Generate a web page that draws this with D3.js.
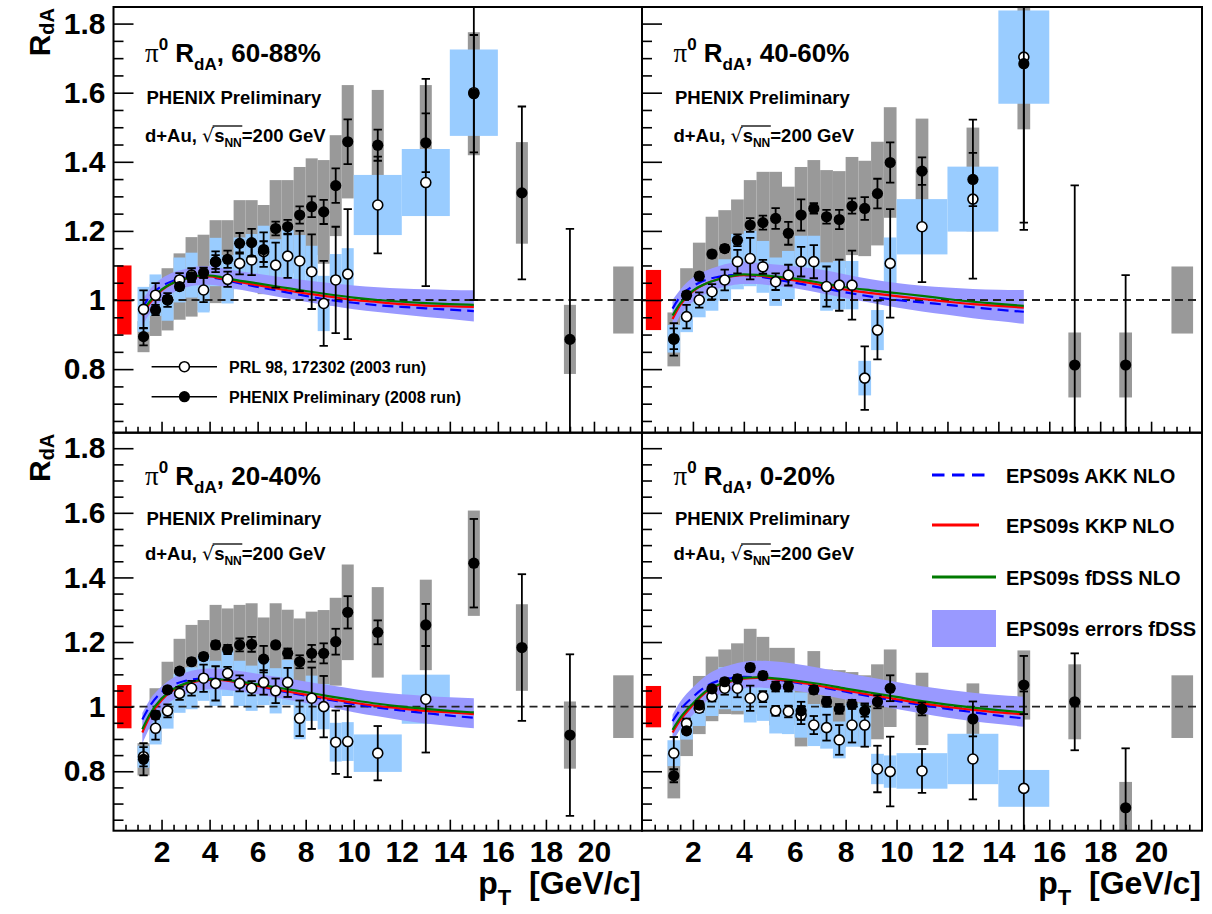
<!DOCTYPE html>
<html>
<head>
<meta charset="utf-8">
<script src="https://cdn.jsdelivr.net/npm/d3@7"></script>
<style>
  html, body { margin: 0; padding: 0; background: #fff; }
  svg { display: block; }
  text { font-family: "Liberation Sans", Arial, Helvetica, sans-serif; fill: #000; white-space: pre; }
</style>
</head>
<body>
<svg id="chart" width="1212" height="914"></svg>
<script>
// ---------------------------------------------------------------
// pi0 R_dA versus pT in four d+Au centrality classes
// ---------------------------------------------------------------
const centralities = ["60-88%", "40-60%", "20-40%", "0-20%"];

// 2008 run (filled points): bin centres
const ptRun08 = [1.25,1.75,2.25,2.75,3.25,3.75,4.25,4.75,5.25,5.75,6.25,6.75,7.25,7.75,8.25,8.75,9.25,9.75,11,13,15,17,19];
// 2003 run (open points): bin centres and half widths
const ptRun03 = [1.25,1.75,2.25,2.75,3.25,3.75,4.25,4.75,5.25,5.75,6.25,6.75,7.25,7.75,8.25,8.75,9.25,9.75,11,13,15];
const halfBinRun03 = [0.25,0.25,0.25,0.25,0.25,0.25,0.25,0.25,0.25,0.25,0.25,0.25,0.25,0.25,0.25,0.25,0.25,0.25,1,1,1];
const halfBinRun08 = 0.25;

// 60-88%
const rda08_6088  = [0.894,0.971,1.002,1.039,1.067,1.079,1.111,1.118,1.164,1.166,1.146,1.207,1.212,1.246,1.270,1.255,1.331,1.458,1.448,1.455,1.597,1.310,0.886];
const stat08_6088 = [0.025,0.015,0.010,0.010,0.012,0.015,0.030,0.025,0.030,0.040,0.050,0.020,0.020,0.025,0.030,0.035,0.050,0.065,0.045,0.085,0.170,0.250,0.320];
const sys08_6088  = [0.045,0.075,0.090,0.096,0.115,0.110,0.120,0.113,0.125,0.123,0.129,0.140,0.135,0.139,0.140,0.150,0.146,0.164,0.160,0.167,0.178,0.147,0.100];
const rda03_6088  = [0.973,1.014,1.000,1.058,1.072,1.029,1.110,1.060,1.106,1.116,1.140,1.101,1.127,1.113,1.082,0.990,1.058,1.075,1.275,1.340,1.600];
const stat03_6088 = [0.055,0.035,0.020,0.020,0.020,0.035,0.020,0.022,0.032,0.044,0.030,0.065,0.063,0.087,0.108,0.123,0.154,0.188,0.140,0.300,0.600];
const sys03_6088  = [0.065,0.060,0.060,0.065,0.065,0.065,0.070,0.070,0.075,0.075,0.075,0.075,0.075,0.075,0.075,0.080,0.075,0.075,0.087,0.097,0.125];

// 40-60%
const rda08_4060  = [0.886,1.014,1.069,1.133,1.149,1.173,1.217,1.224,1.236,1.193,1.246,1.265,1.241,1.233,1.272,1.265,1.308,1.398,1.373,1.349,1.684,0.812,0.812];
const stat08_4060 = [0.047,0.010,0.010,0.010,0.010,0.017,0.020,0.020,0.030,0.033,0.045,0.015,0.020,0.028,0.022,0.033,0.043,0.058,0.040,0.077,0.460,0.520,0.260];
const sys08_4060  = [0.078,0.078,0.097,0.108,0.111,0.118,0.130,0.147,0.135,0.135,0.139,0.140,0.135,0.140,0.142,0.138,0.150,0.160,0.152,0.150,0.190,0.094,0.094];
const rda03_4060  = [0.888,0.952,1.000,1.024,1.058,1.111,1.120,1.096,1.053,1.072,1.111,1.111,1.039,1.043,1.043,0.774,0.913,1.106,1.212,1.292,1.703];
const stat03_4060 = [0.030,0.034,0.022,0.022,0.030,0.034,0.060,0.020,0.024,0.030,0.043,0.048,0.058,0.074,0.100,0.092,0.085,0.157,0.160,0.230,0.500];
const sys03_4060  = [0.040,0.045,0.050,0.055,0.060,0.080,0.080,0.075,0.070,0.070,0.075,0.075,0.070,0.070,0.070,0.050,0.058,0.075,0.080,0.094,0.135];

// 20-40%
const rda08_2040  = [0.837,0.974,1.052,1.110,1.139,1.155,1.191,1.177,1.191,1.193,1.147,1.191,1.165,1.139,1.165,1.165,1.201,1.292,1.230,1.253,1.444,1.183,0.912];
const stat08_2040 = [0.050,0.012,0.010,0.010,0.010,0.010,0.012,0.014,0.020,0.023,0.041,0.010,0.015,0.020,0.026,0.031,0.040,0.050,0.037,0.065,0.137,0.227,0.250];
const sys08_2040  = [0.050,0.083,0.087,0.100,0.114,0.113,0.124,0.127,0.124,0.127,0.129,0.129,0.135,0.134,0.129,0.134,0.136,0.148,0.140,0.140,0.163,0.134,0.104];
const rda03_2040  = [0.845,0.933,0.987,1.041,1.057,1.088,1.072,1.103,1.072,1.057,1.075,1.049,1.075,0.964,1.026,1.000,0.890,0.892,0.856,1.023,null];
const stat03_2040 = [0.030,0.035,0.020,0.020,0.023,0.042,0.053,0.020,0.025,0.022,0.038,0.038,0.045,0.055,0.095,0.095,0.098,0.110,0.084,0.165,null];
const sys03_2040  = [0.034,0.050,0.055,0.060,0.065,0.070,0.070,0.070,0.070,0.070,0.070,0.070,0.070,0.065,0.070,0.070,0.060,0.060,0.058,0.076,null];

// 0-20%
const rda08_0020  = [0.786,0.925,1.005,1.055,1.077,1.086,1.121,1.096,1.062,1.062,0.987,1.052,1.015,0.993,1.007,0.987,1.015,1.057,0.993,0.962,1.067,1.015,0.687];
const stat08_0020 = [0.020,0.010,0.012,0.010,0.010,0.012,0.012,0.012,0.015,0.015,0.028,0.012,0.015,0.015,0.014,0.018,0.020,0.040,0.020,0.054,0.090,0.150,0.184];
const sys08_0020  = [0.070,0.078,0.090,0.100,0.100,0.110,0.120,0.120,0.120,0.120,0.110,0.120,0.100,0.120,0.100,0.110,0.116,0.120,0.112,0.110,0.107,0.116,0.080];
const rda03_0020  = [0.856,0.948,0.995,1.031,1.057,1.057,1.026,1.031,0.987,0.985,0.974,0.943,0.935,0.897,0.943,0.943,0.807,0.799,0.801,0.838,0.747];
const stat03_0020 = [0.050,0.015,0.012,0.015,0.020,0.028,0.039,0.017,0.015,0.018,0.028,0.028,0.040,0.046,0.054,0.067,0.072,0.108,0.068,0.125,0.300];
const sys03_0020  = [0.040,0.050,0.055,0.060,0.065,0.070,0.075,0.075,0.070,0.070,0.070,0.065,0.065,0.057,0.067,0.067,0.047,0.050,0.055,0.078,0.057];

// global normalisation uncertainties
const dAuNormErr = [0.100, 0.087, 0.067, 0.064];   // red box, one per centrality
const ppNormErr = 0.097;                             // grey box
const dAuNormPt = [0.15, 0.75];
const ppNormPt = [20.8, 21.65];

// EPS09s NLO calculations
const ptTheory = [1.2,1.5,2,2.5,3,3.5,4,4.5,5,6,7,8,9,10,11,12,13,14,15];

const akk_6088  = [0.975,1.010,1.040,1.056,1.065,1.068,1.066,1.060,1.052,1.038,1.025,1.012,1.000,0.992,0.985,0.980,0.976,0.972,0.968];
const kkp_6088  = [0.955,0.990,1.028,1.050,1.062,1.068,1.068,1.062,1.055,1.043,1.031,1.019,1.010,1.000,0.994,0.988,0.984,0.982,0.980];
const fdss_6088 = [0.965,0.995,1.030,1.050,1.062,1.070,1.071,1.066,1.059,1.048,1.037,1.026,1.016,1.007,1.000,0.995,0.991,0.988,0.986];
const fdssLo_6088 = [0.925,0.960,0.998,1.022,1.036,1.043,1.044,1.040,1.033,1.020,1.007,0.995,0.984,0.973,0.965,0.958,0.951,0.945,0.938];
const fdssHi_6088 = [1.000,1.030,1.062,1.080,1.090,1.097,1.098,1.093,1.086,1.076,1.066,1.057,1.049,1.042,1.037,1.033,1.031,1.029,1.028];

const akk_4060  = [0.975,1.010,1.040,1.058,1.067,1.072,1.072,1.069,1.063,1.050,1.036,1.022,1.010,1.000,0.993,0.986,0.979,0.972,0.966];
const kkp_4060  = [0.945,0.985,1.025,1.047,1.060,1.068,1.072,1.071,1.067,1.057,1.044,1.030,1.020,1.011,1.003,0.995,0.988,0.983,0.978];
const fdss_4060 = [0.955,0.990,1.027,1.047,1.060,1.069,1.074,1.073,1.070,1.062,1.050,1.037,1.028,1.020,1.012,1.003,0.995,0.989,0.983];
const fdssLo_4060 = [0.910,0.955,0.995,1.018,1.033,1.042,1.046,1.046,1.043,1.034,1.020,1.005,0.992,0.978,0.967,0.957,0.947,0.939,0.931];
const fdssHi_4060 = [1.000,1.030,1.065,1.085,1.098,1.107,1.110,1.108,1.104,1.098,1.088,1.074,1.060,1.049,1.041,1.036,1.032,1.030,1.029];

const akk_2040  = [0.960,1.000,1.045,1.068,1.080,1.086,1.087,1.084,1.078,1.063,1.048,1.034,1.021,1.008,0.997,0.988,0.980,0.972,0.966];
const kkp_2040  = [0.920,0.968,1.020,1.052,1.070,1.079,1.083,1.082,1.077,1.064,1.050,1.037,1.024,1.012,1.002,0.994,0.987,0.982,0.977];
const fdss_2040 = [0.930,0.975,1.025,1.055,1.072,1.081,1.085,1.084,1.080,1.069,1.057,1.045,1.032,1.020,1.009,1.000,0.993,0.987,0.982];
const fdssLo_2040 = [0.885,0.935,0.990,1.022,1.040,1.049,1.054,1.053,1.049,1.038,1.025,1.011,0.997,0.983,0.970,0.958,0.948,0.940,0.933];
const fdssHi_2040 = [0.980,1.020,1.062,1.090,1.106,1.115,1.118,1.117,1.113,1.102,1.090,1.078,1.066,1.055,1.045,1.038,1.033,1.029,1.026];

const akk_0020  = [0.955,0.990,1.030,1.062,1.080,1.088,1.092,1.091,1.087,1.075,1.061,1.046,1.031,1.018,1.005,0.993,0.983,0.972,0.964];
const kkp_0020  = [0.920,0.958,1.005,1.044,1.066,1.078,1.087,1.089,1.087,1.077,1.064,1.050,1.036,1.023,1.010,0.999,0.990,0.982,0.976];
const fdss_0020 = [0.928,0.965,1.010,1.047,1.068,1.080,1.089,1.091,1.089,1.081,1.070,1.056,1.043,1.030,1.017,1.006,0.997,0.989,0.982];
const fdssLo_0020 = [0.890,0.930,0.975,1.015,1.037,1.049,1.057,1.059,1.057,1.049,1.037,1.022,1.007,0.993,0.979,0.966,0.955,0.946,0.938];
const fdssHi_0020 = [0.975,1.015,1.060,1.095,1.117,1.130,1.139,1.142,1.141,1.133,1.120,1.105,1.090,1.076,1.063,1.052,1.043,1.036,1.031];

// axis ticks
const xMajorTicks = [2,4,6,8,10,12,14,16,18,20];
const yMajorTicks = [0.8,1,1.2,1.4,1.6,1.8];
const yMinorTicks = [0.65,0.7,0.75,0.85,0.9,0.95,1.05,1.1,1.15,1.25,1.3,1.35,1.45,1.5,1.55,1.65,1.7,1.75];

// ---------------------------------------------------------------
const FONT = '"Liberation Sans", Arial, Helvetica, sans-serif';
const COL = {
  gray: "#999999", lightblue: "#99ccff", band: "#9999ff",
  akk: "#0000ff", kkp: "#ff0000", fdss: "#007a00", norm: "#ff0000"
};

const svg = d3.select("#chart");
svg.append("rect").attr("width", 1212).attr("height", 914).attr("fill", "#fff");
const defs = svg.append("defs");

const panels = [
  { x0: 113.5, x1: 642,  y0: 7,     y1: 432.7, col: 0, row: 0,
    r08: rda08_6088, s08: stat08_6088, y08: sys08_6088, r03: rda03_6088, s03: stat03_6088, y03: sys03_6088,
    akk: akk_6088, kkp: kkp_6088, fdss: fdss_6088, lo: fdssLo_6088, hi: fdssHi_6088 },
  { x0: 642,   x1: 1202, y0: 7,     y1: 432.7, col: 1, row: 0,
    r08: rda08_4060, s08: stat08_4060, y08: sys08_4060, r03: rda03_4060, s03: stat03_4060, y03: sys03_4060,
    akk: akk_4060, kkp: kkp_4060, fdss: fdss_4060, lo: fdssLo_4060, hi: fdssHi_4060 },
  { x0: 113.5, x1: 642,  y0: 432.7, y1: 830.7, col: 0, row: 1,
    r08: rda08_2040, s08: stat08_2040, y08: sys08_2040, r03: rda03_2040, s03: stat03_2040, y03: sys03_2040,
    akk: akk_2040, kkp: kkp_2040, fdss: fdss_2040, lo: fdssLo_2040, hi: fdssHi_2040 },
  { x0: 642,   x1: 1202, y0: 432.7, y1: 830.7, col: 1, row: 1,
    r08: rda08_0020, s08: stat08_0020, y08: sys08_0020, r03: rda03_0020, s03: stat03_0020, y03: sys03_0020,
    akk: akk_0020, kkp: kkp_0020, fdss: fdss_0020, lo: fdssLo_0020, hi: fdssHi_0020 }
];

// consecutive text pieces (sub/superscripts), returns extents of each piece
function pieces(parent, x, y, segs) {
  let cx = x;
  return segs.map(s => {
    const t = parent.append("text")
      .attr("x", cx).attr("y", y + (s.dy || 0))
      .style("font-family", s.family || FONT)
      .style("font-size", s.size + "px")
      .style("font-weight", s.weight || "bold")
      .text(s.t);
    const x0 = cx;
    cx += t.node().getComputedTextLength();
    return { x0, x1: cx };
  });
}

function errorBar(g, x, y, pt, r, e, cap) {
  g.append("line").attr("x1", x(pt)).attr("x2", x(pt))
    .attr("y1", y(r - e)).attr("y2", y(r + e))
    .attr("stroke", "#000").attr("stroke-width", 1.8);
  [r - e, r + e].forEach(v => {
    g.append("line").attr("x1", x(pt) - cap).attr("x2", x(pt) + cap)
      .attr("y1", y(v)).attr("y2", y(v))
      .attr("stroke", "#000").attr("stroke-width", 1.8);
  });
}

panels.forEach((p, pi) => {
  const x = d3.scaleLinear().domain([0, 22]).range([p.x0, p.x1]);
  const y = d3.scaleLinear().domain([0.616, 1.848]).range([p.y1, p.y0]);

  const clipId = "frame-clip-" + pi;
  defs.append("clipPath").attr("id", clipId).append("rect")
    .attr("x", p.x0).attr("y", p.y0).attr("width", p.x1 - p.x0).attr("height", p.y1 - p.y0);

  const g = svg.append("g");
  const c = g.append("g").attr("clip-path", `url(#${clipId})`);

  const run08 = ptRun08.map((pt, i) => ({ pt, r: p.r08[i], e: p.s08[i], s: p.y08[i] }));
  const run03 = ptRun03.map((pt, i) => ({ pt, hw: halfBinRun03[i], r: p.r03[i], e: p.s03[i], s: p.y03[i] }))
    .filter(d => d.r !== null);

  // systematic boxes, 2008 run
  c.append("g").selectAll("rect").data(run08).join("rect")
    .attr("x", d => x(d.pt - halfBinRun08))
    .attr("width", d => x(d.pt + halfBinRun08) - x(d.pt - halfBinRun08))
    .attr("y", d => y(d.r + d.s))
    .attr("height", d => y(d.r - d.s) - y(d.r + d.s))
    .attr("fill", COL.gray);

  // systematic boxes, 2003 run
  c.append("g").selectAll("rect").data(run03).join("rect")
    .attr("x", d => x(d.pt - d.hw))
    .attr("width", d => x(d.pt + d.hw) - x(d.pt - d.hw))
    .attr("y", d => y(d.r + d.s))
    .attr("height", d => y(d.r - d.s) - y(d.r + d.s))
    .attr("fill", COL.lightblue);

  // p+p normalisation box
  c.append("rect")
    .attr("x", x(ppNormPt[0])).attr("width", x(ppNormPt[1]) - x(ppNormPt[0]))
    .attr("y", y(1 + ppNormErr)).attr("height", y(1 - ppNormErr) - y(1 + ppNormErr))
    .attr("fill", COL.gray);

  // fDSS error band
  const th = ptTheory.map((pt, i) => ({ pt, akk: p.akk[i], kkp: p.kkp[i], fdss: p.fdss[i], lo: p.lo[i], hi: p.hi[i] }));
  c.append("path").datum(th)
    .attr("d", d3.area().x(d => x(d.pt)).y0(d => y(d.lo)).y1(d => y(d.hi)).curve(d3.curveMonotoneX))
    .attr("fill", COL.band);

  // unity line
  c.append("line").attr("x1", p.x0).attr("x2", p.x1).attr("y1", y(1)).attr("y2", y(1))
    .attr("stroke", "#222").attr("stroke-width", 1.8).attr("stroke-dasharray", "8,5");

  // model curves
  const curve = key => d3.line().x(d => x(d.pt)).y(d => y(d[key])).curve(d3.curveMonotoneX);
  c.append("path").datum(th).attr("d", curve("akk")).attr("fill", "none")
    .attr("stroke", COL.akk).attr("stroke-width", 2.2).attr("stroke-dasharray", "11,6");
  c.append("path").datum(th).attr("d", curve("kkp")).attr("fill", "none")
    .attr("stroke", COL.kkp).attr("stroke-width", 2.2);
  c.append("path").datum(th).attr("d", curve("fdss")).attr("fill", "none")
    .attr("stroke", COL.fdss).attr("stroke-width", 2.2);

  // d+Au normalisation box
  c.append("rect")
    .attr("x", x(dAuNormPt[0])).attr("width", x(dAuNormPt[1]) - x(dAuNormPt[0]))
    .attr("y", y(1 + dAuNormErr[pi])).attr("height", y(1 - dAuNormErr[pi]) - y(1 + dAuNormErr[pi]))
    .attr("fill", COL.norm);

  // 2003 run points
  const g03 = c.append("g");
  run03.forEach(d => errorBar(g03, x, y, d.pt, d.r, d.e, 4.2));
  g03.selectAll("circle").data(run03).join("circle")
    .attr("cx", d => x(d.pt)).attr("cy", d => y(d.r)).attr("r", 5)
    .attr("fill", "#fff").attr("stroke", "#000").attr("stroke-width", 1.6);

  // 2008 run points
  const g08 = c.append("g");
  run08.forEach(d => errorBar(g08, x, y, d.pt, d.r, d.e, 4.2));
  g08.selectAll("circle").data(run08).join("circle")
    .attr("cx", d => x(d.pt)).attr("cy", d => y(d.r)).attr("r", 5.6)
    .attr("fill", "#000");

  // axes
  const styleAxis = sel => {
    sel.select(".domain").remove();
    sel.selectAll("line").attr("stroke", "#000").attr("stroke-width", 1.6);
    sel.selectAll("text").style("font-family", FONT).style("font-size", "30px")
      .style("font-weight", "bold").attr("fill", "#000");
  };
  const yFmt = v => (v === 1 ? "1" : d3.format(".1f")(v));
  g.append("g").attr("transform", `translate(${p.x0},0)`)
    .call(d3.axisLeft(y).tickValues(yMajorTicks).tickSizeInner(-20).tickSizeOuter(0).tickPadding(8)
      .tickFormat(p.col === 0 ? yFmt : () => ""))
    .call(styleAxis);
  g.append("g").attr("transform", `translate(${p.x0},0)`)
    .call(d3.axisLeft(y).tickValues(yMinorTicks).tickSizeInner(-10).tickSizeOuter(0).tickFormat(() => ""))
    .call(styleAxis);

  const xMinor = d3.range(0.5, 22, 0.5).filter(v => v % 2 !== 0);
  g.append("g").attr("transform", `translate(0,${p.y1})`)
    .call(d3.axisBottom(x).tickValues(xMajorTicks).tickSizeInner(-11).tickSizeOuter(0).tickPadding(10)
      .tickFormat(p.row === 1 ? d3.format("d") : () => ""))
    .call(styleAxis);
  g.append("g").attr("transform", `translate(0,${p.y1})`)
    .call(d3.axisBottom(x).tickValues(xMinor).tickSizeInner(-6).tickSizeOuter(0).tickFormat(() => ""))
    .call(styleAxis);

  // frame
  g.append("rect").attr("x", p.x0).attr("y", p.y0)
    .attr("width", p.x1 - p.x0).attr("height", p.y1 - p.y0)
    .attr("fill", "none").attr("stroke", "#000").attr("stroke-width", 2);

  // panel labels
  const tx = p.x0 + 31.5;
  const off = p.row === 0 ? { t: 54.5, ph: 96.5, da: 135 } : { t: 52.5, ph: 92.3, da: 127.3 };
  pieces(g, tx, p.y0 + off.t, [
    { t: "\u03c0", size: 27, family: '"Liberation Serif", "DejaVu Serif", serif', weight: "normal" },
    { t: "0", size: 17, dy: -12 },
    { t: " R", size: 26 },
    { t: "dA", size: 17, dy: 8 },
    { t: ", " + centralities[pi], size: 26 }
  ]);
  pieces(g, tx + 1.5, p.y0 + off.ph, [{ t: "PHENIX Preliminary", size: 18.5 }]);
  const dau = pieces(g, tx, p.y0 + off.da, [
    { t: "d+Au, ", size: 18.5 },
    { t: "\u221a", size: 19, weight: "normal", family: '"DejaVu Sans", sans-serif' },
    { t: "s", size: 18.5 },
    { t: "NN", size: 12, dy: 5 },
    { t: "=200 GeV", size: 18.5 }
  ]);
  g.append("line").attr("x1", dau[1].x1 - 1.5).attr("x2", dau[3].x1 + 0.5)
    .attr("y1", p.y0 + off.da - 16).attr("y2", p.y0 + off.da - 16)
    .attr("stroke", "#000").attr("stroke-width", 1.3);

  // axis titles
  if (p.col === 0) {
    const yt = g.append("text").attr("transform", `translate(50,${p.y0 + 1}) rotate(-90)`)
      .attr("text-anchor", "end").style("font-size", "30px").style("font-weight", "bold");
    yt.append("tspan").text("R");
    yt.append("tspan").attr("dy", 4).style("font-size", "20px").text("dA");
  }
  if (p.row === 1) {
    const xt = g.append("text").attr("x", p.x1 - 1).attr("y", 894)
      .attr("text-anchor", "end").style("font-size", "32px").style("font-weight", "bold");
    xt.append("tspan").text("p");
    xt.append("tspan").attr("dy", 11).style("font-size", "22px").text("T");
    xt.append("tspan").attr("dy", -11).text("  [GeV/c]");
  }
});

// legend: data sets (upper left panel)
{
  const lg = svg.append("g");
  const rows = [
    { y: 366.7, label: "PRL 98, 172302 (2003 run)", open: true },
    { y: 396.7, label: "PHENIX Preliminary (2008 run)", open: false }
  ];
  rows.forEach(r => {
    lg.append("line").attr("x1", 151.6).attr("x2", 217).attr("y1", r.y).attr("y2", r.y)
      .attr("stroke", "#000").attr("stroke-width", 1.6);
    lg.append("circle").attr("cx", 184.4).attr("cy", r.y).attr("r", r.open ? 5 : 5.6)
      .attr("fill", r.open ? "#fff" : "#000").attr("stroke", "#000").attr("stroke-width", r.open ? 1.6 : 0);
    lg.append("text").attr("x", 229).attr("y", r.y + 5.8)
      .style("font-size", "16px").style("font-weight", "bold").text(r.label);
  });
}

// legend: calculations (lower right panel)
{
  const lg = svg.append("g");
  lg.append("line").attr("x1", 932).attr("x2", 990).attr("y1", 475).attr("y2", 475)
    .attr("stroke", COL.akk).attr("stroke-width", 2.8).attr("stroke-dasharray", "12.5,7.5");
  lg.append("line").attr("x1", 932).attr("x2", 979).attr("y1", 525).attr("y2", 525)
    .attr("stroke", COL.kkp).attr("stroke-width", 2.8);
  lg.append("line").attr("x1", 932).attr("x2", 996).attr("y1", 577).attr("y2", 577)
    .attr("stroke", COL.fdss).attr("stroke-width", 2.8);
  lg.append("rect").attr("x", 932).attr("y", 610).attr("width", 64).attr("height", 37)
    .attr("fill", COL.band);
  const labels = [
    { y: 483, t: "EPS09s AKK NLO" },
    { y: 533, t: "EPS09s KKP NLO" },
    { y: 585, t: "EPS09s fDSS NLO" },
    { y: 636, t: "EPS09s errors fDSS" }
  ];
  labels.forEach(l => lg.append("text").attr("x", 1006).attr("y", l.y)
    .style("font-size", "20px").style("font-weight", "bold").text(l.t));
}
</script>
</body>
</html>
